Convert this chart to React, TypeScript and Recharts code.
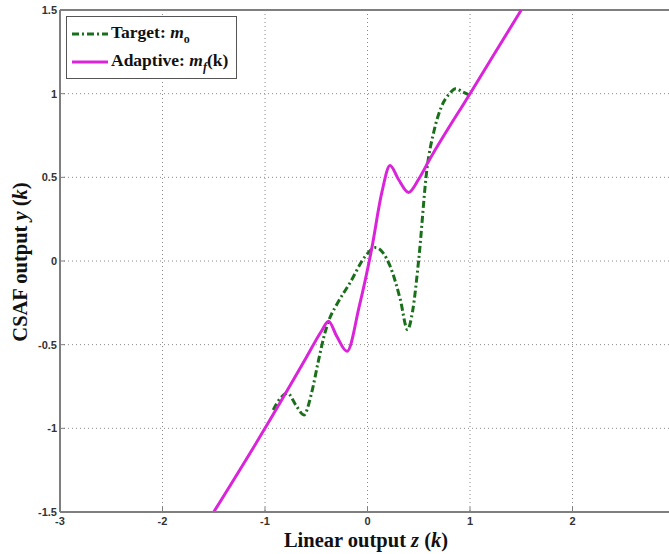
import { LineChart, Line, XAxis, YAxis, CartesianGrid, ReferenceLine, Label } from 'recharts'

// x = 3 falls just past the right edge of the picture, so its label is not shown
const X_TICKS = [-3, -2, -1, 0, 1, 2]
const Y_TICKS = [-1.5, -1, -0.5, 0, 0.5, 1, 1.5]

// adaptive m_f(k)
const ADAPT_X = [-1.5, -1.0, -0.6, -0.45, -0.38, -0.3, -0.2, -0.08, 0.04, 0.14, 0.22, 0.3, 0.4, 0.5, 0.6, 1.0, 1.5]
const ADAPT_Y = [-1.5, -1.0, -0.58, -0.42, -0.36, -0.45, -0.54, -0.27, 0.07, 0.41, 0.57, 0.49, 0.41, 0.49, 0.6, 1.0, 1.5]

// target m_o
const TARGET_X = [-0.92, -0.85, -0.78, -0.7, -0.62, -0.55, -0.48, -0.42, -0.38, -0.3, -0.17, -0.02, 0.08, 0.15, 0.22, 0.32, 0.39, 0.44, 0.5, 0.58, 0.65, 0.72, 0.8, 0.86, 0.93, 1.0]
const TARGET_Y = [-0.89, -0.82, -0.79, -0.86, -0.92, -0.8, -0.6, -0.44, -0.36, -0.26, -0.13, 0.03, 0.08, 0.05, -0.03, -0.23, -0.41, -0.3, 0.01, 0.55, 0.78, 0.92, 1.0, 1.03, 1.01, 0.99]

const adaptive = ADAPT_X.map((x, i) => ({ x, y: ADAPT_Y[i] }))
const target = TARGET_X.map((x, i) => ({ x, y: TARGET_Y[i] }))

const AXIS = '#7f7f7f'
const GREEN = '#1a701a'
const MAGENTA = '#da24da'
const TICK_FONT = 'Liberation Sans, Arial, sans-serif'
const SERIF = 'Liberation Serif, Times New Roman, serif'

function XTick({ x, y, payload }: any) {
  return (
    <g>
      <line x1={x} x2={x} y1={y} y2={y - 5} stroke={AXIS} />
      <text x={x} y={y + 13} textAnchor="middle" fontSize={11} fontWeight="bold" fill="#333" fontFamily={TICK_FONT}>
        {payload.value}
      </text>
    </g>
  )
}

function YTick({ x, y, payload }: any) {
  return (
    <g>
      <line x1={x} x2={x + 5} y1={y} y2={y} stroke={AXIS} />
      <text x={x - 3} y={y + 4} textAnchor="end" fontSize={11} fontWeight="bold" fill="#333" fontFamily={TICK_FONT}>
        {payload.value}
      </text>
    </g>
  )
}

function LegendBox() {
  const row = { display: 'flex', alignItems: 'center', height: 28 }
  const txt = { fontFamily: SERIF, fontWeight: 'bold' as const, fontSize: 17.5, color: '#111', marginLeft: 3, whiteSpace: 'nowrap' as const }
  return (
    <div
      style={{
        position: 'absolute',
        left: 66,
        top: 16,
        border: '1px solid #555',
        background: '#fff',
        width: 171,
        height: 63,
        padding: '3px 5px',
        boxSizing: 'border-box',
      }}
    >
      <div style={row}>
        <svg width={36} height={6}>
          <line x1={0} x2={36} y1={3} y2={3} stroke={GREEN} strokeWidth={3} strokeDasharray="7 3 2 3" />
        </svg>
        <span style={txt}>
          Target: <i>m</i>
          <sub style={{ fontSize: 12 }}>o</sub>
        </span>
      </div>
      <div style={row}>
        <svg width={36} height={6}>
          <line x1={0} x2={36} y1={3} y2={3} stroke={MAGENTA} strokeWidth={3} />
        </svg>
        <span style={txt}>
          Adaptive: <i>m</i>
          <sub style={{ fontSize: 12 }}>
            <i>f</i>
          </sub>
          (k)
        </span>
      </div>
    </div>
  )
}

function XTitle() {
  return (
    <text x={366} y={547} textAnchor="middle" fontSize={20.5} fontWeight="bold" fontFamily={SERIF} fill="#111">
      Linear output <tspan fontStyle="italic">z</tspan> (<tspan fontStyle="italic">k</tspan>)
    </text>
  )
}

function YTitle() {
  return (
    <text
      x={0}
      y={0}
      transform="translate(27 262) rotate(-90)"
      textAnchor="middle"
      fontSize={20.5}
      fontWeight="bold"
      fontFamily={SERIF}
      fill="#111"
    >
      CSAF output <tspan fontStyle="italic">y</tspan> (<tspan fontStyle="italic">k</tspan>)
    </text>
  )
}

export default function App() {
  return (
    <div style={{ position: 'absolute', left: 0, top: 0, width: 669, height: 554, overflow: 'hidden', background: '#fff' }}>
      <LineChart width={680} height={554} margin={{ top: 10, right: 5, bottom: 0, left: 0 }}>
        <CartesianGrid stroke="#8a8a8a" strokeDasharray="1 3" />
        <XAxis
          type="number"
          dataKey="x"
          domain={[-3, 3]}
          ticks={X_TICKS}
          height={42}
          stroke={AXIS}
          strokeWidth={2}
          tickLine={false}
          tickSize={0}
          tickMargin={0}
          tick={<XTick />}
          allowDuplicatedCategory={false}
        >
          <Label content={<XTitle />} />
        </XAxis>
        <YAxis
          type="number"
          dataKey="y"
          domain={[-1.5, 1.5]}
          ticks={Y_TICKS}
          width={60}
          stroke={AXIS}
          strokeWidth={2}
          tickLine={false}
          tickSize={0}
          tickMargin={0}
          tick={<YTick />}
        >
          <Label content={<YTitle />} />
        </YAxis>
        <ReferenceLine y={1.5} stroke={AXIS} strokeWidth={2} />
        <Line
          data={target}
          dataKey="y"
          type="monotone"
          stroke={GREEN}
          strokeWidth={3}
          strokeDasharray="7 3 2 3"
          dot={false}
          isAnimationActive={false}
        />
        <Line
          data={adaptive}
          dataKey="y"
          type="monotone"
          stroke={MAGENTA}
          strokeWidth={3}
          dot={false}
          isAnimationActive={false}
        />
      </LineChart>
      <LegendBox />
    </div>
  )
}
